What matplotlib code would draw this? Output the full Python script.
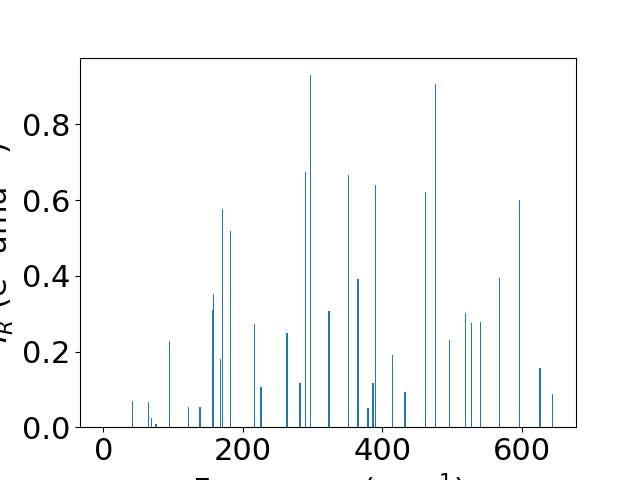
import numpy as np
import matplotlib
matplotlib.use('Agg')
import matplotlib.pyplot as plt

# IR spectrum: mode frequencies (cm^-1) and intensities
freq = [0.0, 0.0, 0.0, 41.7, 64.8, 69.6, 75.8, 95.0, 121.9, 138.7, 157.4, 158.3,
        168.4, 171.3, 182.8, 217.3, 226.0, 263.3, 282.0, 289.8, 297.4, 323.7,
        352.1, 365.5, 379.9, 387.0, 390.0, 415.0, 433.0, 462.0, 476.8, 496.4,
        519.4, 528.0, 541.0, 568.0, 597.0, 626.5, 644.6]
intensity = [0.0, 0.0, 0.0, 0.069, 0.067, 0.0245, 0.0087, 0.228, 0.0536, 0.0536, 0.310, 0.352,
             0.180, 0.576, 0.518, 0.273, 0.106, 0.249, 0.117, 0.674, 0.930, 0.308,
             0.666, 0.392, 0.051, 0.117, 0.640, 0.191, 0.093, 0.621, 0.906, 0.230,
             0.302, 0.275, 0.278, 0.394, 0.600, 0.157, 0.088]

plt.rcParams['font.size'] = 22

plt.figure(figsize=(6.4, 4.8), dpi=100)
plt.bar(freq, intensity, width=2)
plt.xlabel('Frequency (cm$^{-1}$)')
plt.ylabel('$I_R$ (e$^2$ amu$^{-1}$)')
plt.savefig('out.png')
